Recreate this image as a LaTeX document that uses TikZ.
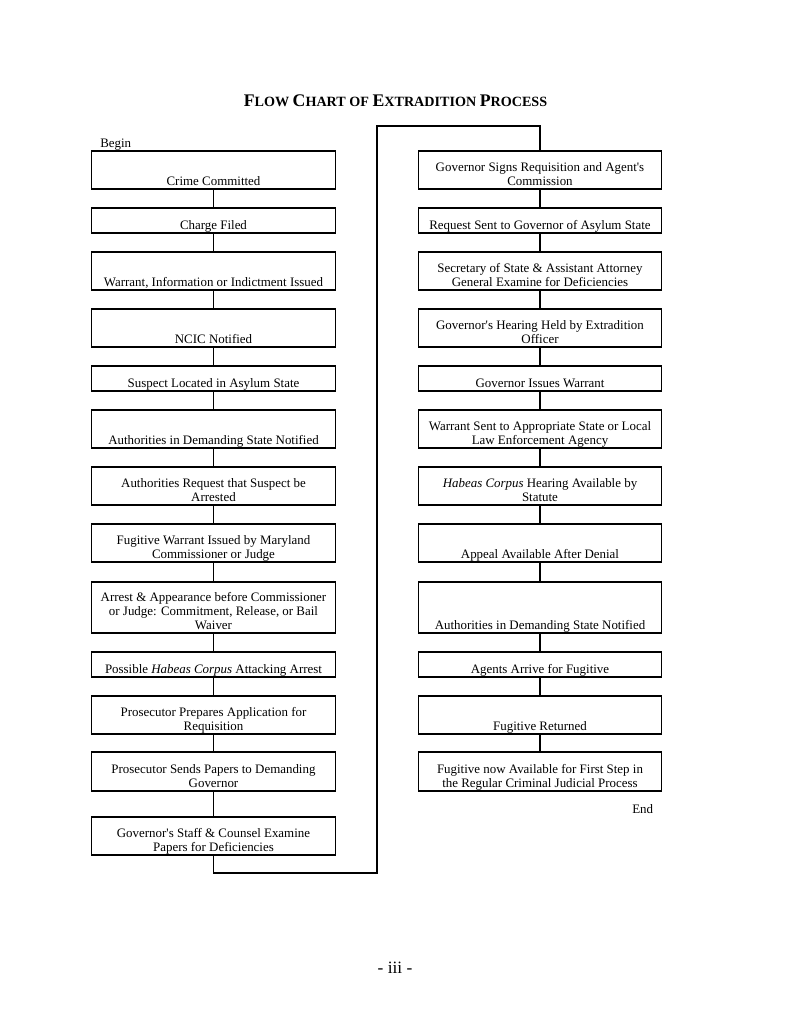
\documentclass[tikz,border=0pt]{standalone}
\usepackage{fontspec}
\setmainfont{Liberation Serif}
\newcommand\tbig[1]{{\fontsize{13.3}{14}\selectfont #1}}
\newcommand\flowstep[5]{%
  \node[box, minimum height={(#4-#3)*0.75pt}] (#1) at (#2,{(#3+#4)/2}) {};
  \node[txt] (#1t) at (#1.south) {#5\strut};
}
\tikzset{
  box/.style={draw, rectangle, minimum width=182.5pt, inner sep=0pt, line width=0.9pt},
  txt/.style={anchor=south, inner sep=0pt, yshift=-0.6pt, align=center, font=\fontsize{9.7}{10.6}\selectfont},
  link/.style={line width=0.9pt},
  plain/.style={inner sep=0pt, anchor=base, font=\fontsize{9.7}{10.6}\selectfont}
}
\begin{document}
\begin{tikzpicture}[x=0.75pt, y=-0.75pt]
\useasboundingbox (0,0) rectangle (791,1024);
\node[anchor=base, inner sep=0pt, font=\bfseries\fontsize{10.6}{14}\selectfont] (title) at (395.5,107)
  {\tbig{F}LOW \tbig{C}HART OF \tbig{E}XTRADITION \tbig{P}ROCESS};
\node[plain, anchor=base west] (begin) at (100,147) {Begin};
\node[plain, anchor=base west] (end) at (632,813) {End};
\node[anchor=base, inner sep=0pt, font=\fontsize{13}{14}\selectfont] (page) at (395,973) {- iii -};
% left column
\flowstep{L1}{213.5}{151}{189}{Crime Committed}
\flowstep{L2}{213.5}{208}{233}{Charge Filed}
\flowstep{L3}{213.5}{252}{290}{Warrant, Information or Indictment Issued}
\flowstep{L4}{213.5}{309}{347}{NCIC Notified}
\flowstep{L5}{213.5}{366}{391}{Suspect Located in Asylum State}
\flowstep{L6}{213.5}{410}{448}{Authorities in Demanding State Notified}
\flowstep{L7}{213.5}{467}{505}{Authorities Request that Suspect be\\Arrested}
\flowstep{L8}{213.5}{524}{562}{Fugitive Warrant Issued by Maryland\\Commissioner or Judge}
\flowstep{L9}{213.5}{582}{633}{Arrest \& Appearance before Commissioner\\or Judge: Commitment, Release, or Bail\\Waiver}
\flowstep{L10}{213.5}{652}{677}{Possible \textit{Habeas Corpus} Attacking Arrest}
\flowstep{L11}{213.5}{696}{734}{Prosecutor Prepares Application for\\Requisition}
\flowstep{L12}{213.5}{752}{791}{Prosecutor Sends Papers to Demanding\\Governor}
\flowstep{L13}{213.5}{817}{855}{Governor\textquotesingle s Staff \& Counsel Examine\\Papers for Deficiencies}
% right column
\flowstep{R1}{540}{151}{189}{Governor Signs Requisition and Agent\textquotesingle s\\Commission}
\flowstep{R2}{540}{208}{233}{Request Sent to Governor of Asylum State}
\flowstep{R3}{540}{252}{290}{Secretary of State \& Assistant Attorney\\General Examine for Deficiencies}
\flowstep{R4}{540}{309}{347}{Governor\textquotesingle s Hearing Held by Extradition\\Officer}
\flowstep{R5}{540}{366}{391}{Governor Issues Warrant}
\flowstep{R6}{540}{410}{448}{Warrant Sent to Appropriate State or Local\\Law Enforcement Agency}
\flowstep{R7}{540}{467}{505}{\textit{Habeas Corpus} Hearing Available by\\Statute}
\flowstep{R8}{540}{524}{562}{Appeal Available After Denial}
\flowstep{R9}{540}{582}{633}{Authorities in Demanding State Notified}
\flowstep{R10}{540}{652}{677}{Agents Arrive for Fugitive}
\flowstep{R11}{540}{696}{734}{Fugitive Returned}
\flowstep{R12}{540}{752}{791}{Fugitive now Available for First Step in\\the Regular Criminal Judicial Process}
% connectors
\foreach \a/\b in {L1/L2,L2/L3,L3/L4,L4/L5,L5/L6,L6/L7,L7/L8,L8/L9,L9/L10,L10/L11,L11/L12,L12/L13,
                   R1/R2,R2/R3,R3/R4,R4/R5,R5/R6,R6/R7,R7/R8,R8/R9,R9/R10,R10/R11,R11/R12}
  \draw[link] (\a.south) -- (\b.north);
\coordinate (lb) at (213.5,873);
\coordinate (rb) at (377,873);
\coordinate (rt) at (377,126);
\coordinate (tt) at (540,126);
\draw[link] (L13.south) -- (lb) -- (rb) -- (rt) -- (tt) -- (R1.north);
\end{tikzpicture}
\end{document}
